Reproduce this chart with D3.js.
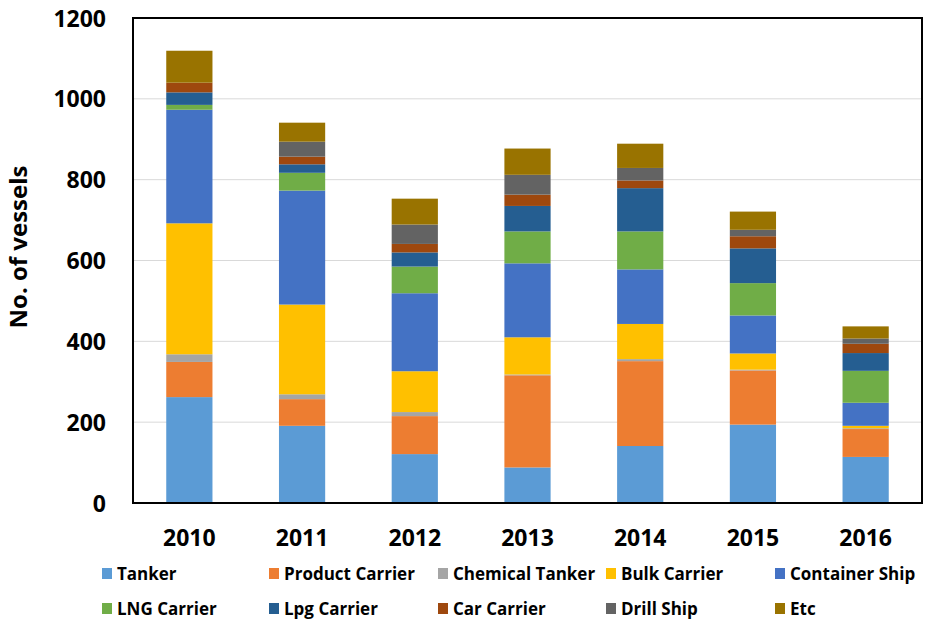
<!DOCTYPE html>
<html>
<head>
<meta charset="utf-8">
<script src="https://cdn.jsdelivr.net/npm/d3@7"></script>
<style>
  body { margin: 0; background: #fff; }
  svg { display: block; }
  text { font-family: "Open Sans", Lato, sans-serif; font-weight: bold; fill: #000; }
</style>
</head>
<body>
<svg id="chart" width="935" height="630"></svg>
<script>
const years = ["2010", "2011", "2012", "2013", "2014", "2015", "2016"];
const seriesNames = ["Tanker", "Product Carrier", "Chemical Tanker", "Bulk Carrier", "Container Ship",
                     "LNG Carrier", "Lpg Carrier", "Car Carrier", "Drill Ship", "Etc"];
const colors = ["#5B9BD5", "#ED7D31", "#A5A5A5", "#FFC000", "#4472C4",
                "#70AD47", "#255E91", "#9E480E", "#636363", "#997300"];

const tanker         = [262, 191, 121,  88, 141, 194, 114];
const productCarrier = [ 87,  66,  94, 228, 210, 134,  69];
const chemicalTanker = [ 19,  12,  10,   2,   5,   2,   2];
const bulkCarrier    = [324, 222, 101,  92,  87,  40,   6];
const containerShip  = [281, 282, 193, 183, 135,  94,  57];
const lngCarrier     = [ 12,  44,  66,  79,  94,  80,  79];
const lpgCarrier     = [ 31,  21,  35,  63, 107,  86,  44];
const carCarrier     = [ 24,  19,  21,  28,  19,  30,  23];
const drillShip      = [  0,  37,  48,  49,  31,  16,  13];
const etc            = [ 79,  47,  64,  65,  60,  45,  30];
const yTicks = [0, 200, 400, 600, 800, 1000, 1200];

const seriesValues = [tanker, productCarrier, chemicalTanker, bulkCarrier, containerShip,
                      lngCarrier, lpgCarrier, carCarrier, drillShip, etc];

const table = years.map((y, i) => {
  const row = { year: y };
  seriesNames.forEach((s, j) => row[s] = seriesValues[j][i]);
  return row;
});

const svg = d3.select("#chart");
const plot = { left: 133, right: 922, top: 18, bottom: 503 };

const x = d3.scaleBand().domain(years).range([plot.left, plot.right]).paddingInner(0.59).paddingOuter(0.295);
const y = d3.scaleLinear().domain([0, 1200]).range([plot.bottom, plot.top]);

// gridlines
svg.append("g").selectAll("line").data(yTicks.filter(t => t > 0 && t < 1200)).join("line")
  .attr("x1", plot.left).attr("x2", plot.right)
  .attr("y1", d => y(d)).attr("y2", d => y(d))
  .attr("stroke", "#D9D9D9").attr("stroke-width", 1);

const stack = d3.stack().keys(seriesNames)(table);

svg.append("g").selectAll("g").data(stack).join("g")
  .attr("fill", (d, i) => colors[i])
  .selectAll("rect").data(d => d).join("rect")
  .attr("x", d => x(d.data.year))
  .attr("width", x.bandwidth())
  .attr("y", d => y(d[1]))
  .attr("height", d => Math.max(0, y(d[0]) - y(d[1])));

// plot border
svg.append("rect")
  .attr("x", plot.left).attr("y", plot.top)
  .attr("width", plot.right - plot.left).attr("height", plot.bottom - plot.top)
  .attr("fill", "none").attr("stroke", "#000").attr("stroke-width", 2);

// y axis
const yAxis = d3.axisLeft(y).tickValues(yTicks).tickFormat(d3.format("d")).tickSize(0).tickPadding(0);
const ya = svg.append("g").attr("transform", `translate(${plot.left - 27},0)`).call(yAxis);
ya.select(".domain").remove();
ya.selectAll("text").attr("font-size", 23).attr("font-family", "'Open Sans', sans-serif").attr("font-weight", "bold").attr("fill", "#000").attr("dy", "0.35em");

// x axis
const xAxis = d3.axisBottom(x).tickSize(0).tickPadding(0);
const xa = svg.append("g").attr("transform", `translate(0,546)`).call(xAxis);
xa.select(".domain").remove();
xa.selectAll("text").attr("font-size", 23).attr("font-family", "'Open Sans', sans-serif").attr("font-weight", "bold").attr("fill", "#000").attr("dy", 0);

// y title
svg.append("text")
  .attr("transform", "translate(27,247) rotate(-90)")
  .attr("text-anchor", "middle")
  .attr("font-size", 24)
  .text("No. of vessels");

// legend
const legendX = [102, 269, 438, 606, 775];
const legendY = [580, 615];
const lg = svg.append("g").selectAll("g").data(seriesNames).join("g")
  .attr("transform", (d, i) => `translate(${legendX[i % 5]},${legendY[Math.floor(i / 5)]})`);
lg.append("rect").attr("x", 0).attr("y", -12).attr("width", 10).attr("height", 11)
  .attr("fill", (d, i) => colors[i]);
lg.append("text").attr("x", 15).attr("y", 0).attr("font-size", 17).text(d => d);
</script>
</body>
</html>
